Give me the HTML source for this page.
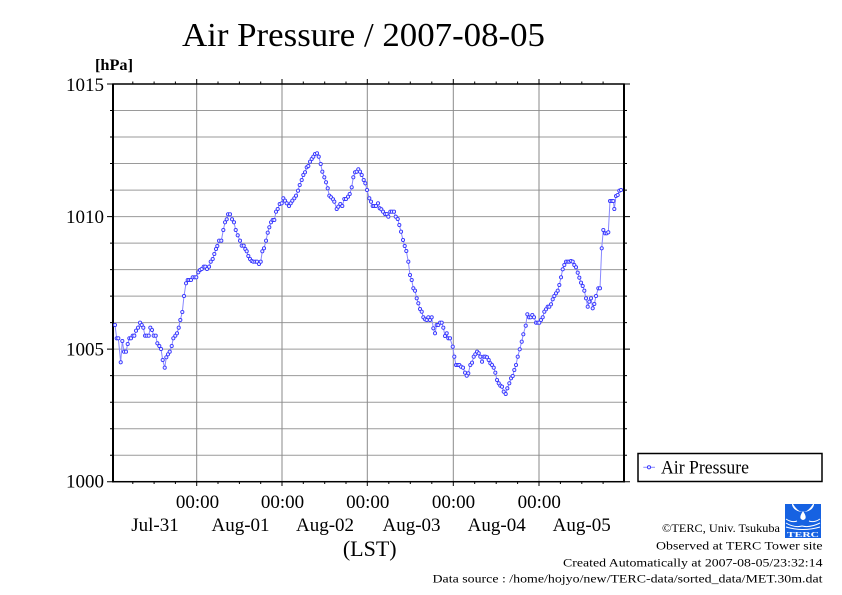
<!DOCTYPE html>
<html><head><meta charset="utf-8"><style>
html,body{margin:0;padding:0;background:#fff;}
svg{display:block;}
text{font-family:"Liberation Serif",serif;fill:#000;}
</style></head><body>
<svg width="842" height="595" viewBox="0 0 842 595" xmlns="http://www.w3.org/2000/svg">
<defs>
<marker id="m" markerWidth="6" markerHeight="6" refX="3" refY="3" markerUnits="userSpaceOnUse">
<circle cx="3" cy="3" r="1.6" fill="#eeeeff" stroke="#3535ff" stroke-width="0.9"/>
</marker>
</defs>
<rect width="842" height="595" fill="#fff"/>

<text x="182" y="46" font-size="34" textLength="363" lengthAdjust="spacingAndGlyphs">Air Pressure / 2007-08-05</text>
<text x="95" y="70" font-size="16" font-weight="bold" textLength="38" lengthAdjust="spacingAndGlyphs">[hPa]</text>

<g stroke="#9a9a9a" stroke-width="1" fill="none">
<path d="M113 110.5H624M113 137H624M113 163.5H624M113 190.1H624M113 216.6H624M113 243.1H624M113 269.6H624M113 296.1H624M113 322.6H624M113 349.1H624M113 375.6H624M113 402.2H624M113 428.7H624M113 455.2H624"/>
<path d="M196.7 84V481.7M282 84V481.7M367.3 84V481.7M453.3 84V481.7M539 84V481.7" stroke="#8a8a8a"/>
</g>

<g stroke="#000" stroke-width="1" fill="none">
<path d="M110 110.5H113M110 137H113M110 163.5H113M110 190.1H113M110 243.1H113M110 269.6H113M110 296.1H113M110 322.6H113M110 375.6H113M110 402.2H113M110 428.7H113M110 455.2H113"/>
<path d="M107 84H113M107 216.6H113M107 349.1H113M107 481.7H113"/>
<path d="M624 110.5H627M624 137H627M624 163.5H627M624 190.1H627M624 243.1H627M624 269.6H627M624 296.1H627M624 322.6H627M624 375.6H627M624 402.2H627M624 428.7H627M624 455.2H627"/>
<path d="M624 84H630M624 216.6H630M624 349.1H630M624 481.7H630"/>
<path d="M132.8 81.5V84M154.1 81.5V84M175.4 81.5V84M218 81.5V84M239.4 81.5V84M260.7 81.5V84M303.3 81.5V84M324.7 81.5V84M346 81.5V84M388.8 81.5V84M410.3 81.5V84M431.8 81.5V84M474.7 81.5V84M496.2 81.5V84M517.6 81.5V84M560.4 81.5V84M581.8 81.5V84M603.1 81.5V84"/>
<path d="M196.7 79V84M282 79V84M367.3 79V84M453.3 79V84M539 79V84"/>
<path d="M132.8 481.7V484M154.1 481.7V484M175.4 481.7V484M218 481.7V484M239.4 481.7V484M260.7 481.7V484M303.3 481.7V484M324.7 481.7V484M346 481.7V484M388.8 481.7V484M410.3 481.7V484M431.8 481.7V484M474.7 481.7V484M496.2 481.7V484M517.6 481.7V484M560.4 481.7V484M581.8 481.7V484M603.1 481.7V484"/>
<path d="M196.7 481.7V486M282 481.7V486M367.3 481.7V486M453.3 481.7V486M539 481.7V486"/>
</g>
<rect x="113" y="84" width="511" height="397.7" fill="none" stroke="#000" stroke-width="1.5"/>
<path d="M113 83.5V482.5M624 83.5V482.5" stroke="#000" stroke-width="2"/>

<g font-size="19" text-anchor="end">
<text x="104" y="91">1015</text>
<text x="104" y="223">1010</text>
<text x="104" y="355.5">1005</text>
<text x="104" y="487.5">1000</text>
</g>

<g font-size="19" text-anchor="middle">
<text x="197.5" y="508">00:00</text>
<text x="282.5" y="508">00:00</text>
<text x="367.8" y="508">00:00</text>
<text x="453.5" y="508">00:00</text>
<text x="539.3" y="508">00:00</text>
<text x="155" y="531">Jul-31</text>
<text x="240.5" y="531">Aug-01</text>
<text x="325" y="531">Aug-02</text>
<text x="411.5" y="531">Aug-03</text>
<text x="496.7" y="531">Aug-04</text>
<text x="581.7" y="531">Aug-05</text>
<text x="369.7" y="556" font-size="22">(LST)</text>
</g>

<polyline fill="none" stroke="#8888ff" stroke-width="1" marker-start="url(#m)" marker-mid="url(#m)" marker-end="url(#m)" points="
115,325 116.7,338.3 118.3,338.3 120.7,362.3 122.3,341 124,351.7 126,351.7 127.7,344 129.3,338.3 131,338.3 132.7,335.7 134.3,335.7 136,330.7 138,327.7 140,322.7 141.7,325 143.3,327.7 145,335.7 146.7,335.7 148.7,335.7 150.3,327.7 152,330 153.7,335.7 155.7,335.7 157.3,343.3 159.3,346 161,349 162.7,360 164.7,367.7 166.3,357.3 168,354.3 169.7,351.7 171.7,346 173.3,338.3 175.3,335.7 177,333.3 178.7,327.7 180.3,320 182.3,312 184,296 186,283.3 187.7,280 189.3,280 191,280 192.7,277.3 194.7,277.3 196.3,277.3 198.3,272.3 200,270 201.7,269 203.7,266.7 205.3,266.7 207,269 209,266.7 210.7,261.7 212.7,259 214.3,254 216,249 217.3,246 219,240.7 221.3,240.7 223.3,230 225,222.3 226.7,219.3 228,214.3 230,214.3 232,219.3 234,222.3 235.7,230 237.7,235.3 240,240.7 241.7,245.7 243.7,245.7 245.3,249 246.7,251.3 248.3,256 250,259 251.7,261 253.3,261.7 255.3,261.7 257,261.7 259,264 260.7,261.7 262.3,251.3 264,248.3
266,240.7 267.7,232.7 269.3,227.3 271,222.3 272.7,220 274.3,220 276,211.7 277.7,209 279.7,204 281.7,203.3 283.3,198.3 285,200.7 286.7,203.3 289,206 290.7,203.3 292.3,200.7 294.3,198.3 296,195.7 298,190.7 299.7,185 301.7,180 303.3,175 305,172.3 306.7,167.3 308.3,166 310,161.7 311.7,159 313.3,156.7 315,154 317,153.3 318.7,156.7 320.7,164 322.3,171.7 324.3,177.3 326,182.3 327.7,188.3 329.3,195.7 331,197.3 333,199.3 334.3,201.7 336.7,209 338.3,206.7 340.3,204 342.3,206 344.3,199 346,199 348,196.7 349.7,194 351.7,187.3 353.3,177.3 355,172.3 356.7,171.7 358.3,169.3 360,171.7 361.7,175 363.7,180 365.3,183.3 367,190 369.3,198.3 371,201.7 372.7,206 374.3,206 376,206 378,203.3 379.7,208.3 381.3,209.3 383,211.7 385,214 386.7,214 388.3,216.7 390.3,211.7 392,211.7 394,211.7 395.7,216.7 397.7,219 399.3,225 401,231.7 403,240 404.7,246 406.3,251 408.3,261.7 410,275
411.7,280 413.3,288.3 415,290.7 416.7,298.3 418.3,303.3 420,309 421.7,311.7 423.3,317.3 425,319.3 426.7,320 428.3,317.3 430,320 431.7,317.3 433.3,328.3 435,333.3 436.7,325 438.3,325 440,322.7 441.7,322.7 443.3,327.7 445,336 446.7,333.3 448.3,338.3 450,338.3 452.7,346.7 454.3,356.7 456,365 457.7,365 459.3,365 461,366.7 463,367.7 465,372.7 466.7,375.7 468.3,373.3 470.3,365 472,362.7 473.7,356.7 475.3,354.3 477,351.7 478.7,353.3 480.3,356.7 482,361.7 483.7,356.7 485.3,356.7 487,357.3 488.7,360 490.3,363.3 492,365 493.7,367.7 495.3,372.7 497,380 498.7,383.3 500.3,385.7 502,386.7 503.7,391.7 505.7,394 507.3,388.3 509.3,383.3 511,378.3 512.7,376 514.3,370 516,365 517.7,356.7 519.7,349.3 521.7,341.7 523.3,334.3 525.7,325.7 527.3,314.3 529,317.3 530.7,317.3 532.3,315 534,317.3 536,322.7 537.7,322.7 539.3,322.7 541,320 542.7,317.3 544.3,311.7 546,309.3 547.7,306.7 549.3,306.7 551,304.3 552.7,299.3
554.3,296 556,293.3 557.7,290.7 559.3,285 561,277.3 562.7,269.3 564.3,265 566,261.7 567.7,261.7 569.3,261.7 571,261 572.7,261.7 574.3,265 576,267.3 577.7,272.7 579.3,277.7 581,282.7 582.7,286 584.3,290.7 586,298.3 587.7,306.7 589.3,301.7 591,298.3 592.7,308.3 594.3,304 596,296 598.3,288.3 600,288.3 601.7,248.3 603.3,230 605,233.3 606.7,233.3 608.3,232.3 610,201 611.7,201 613.3,201 614.3,209 616,196 617.7,195 619.3,190.7 621,190"/>

<rect x="638" y="453.5" width="184" height="28" fill="#fff" stroke="#000" stroke-width="1.5"/>
<line x1="643.3" y1="467.3" x2="655" y2="467.3" stroke="#8888ff" stroke-width="1"/>
<circle cx="649" cy="467.3" r="1.6" fill="#eeeeff" stroke="#3535ff" stroke-width="0.9"/>
<text x="661" y="473.5" font-size="18.5" textLength="88" lengthAdjust="spacingAndGlyphs">Air Pressure</text>

<g font-size="11.5" text-anchor="end">
<text x="780" y="532" textLength="118" lengthAdjust="spacingAndGlyphs">©TERC, Univ. Tsukuba</text>
<text x="822.5" y="549.5" textLength="166.5" lengthAdjust="spacingAndGlyphs">Observed at TERC Tower site</text>
<text x="822.5" y="566.5" textLength="259.5" lengthAdjust="spacingAndGlyphs">Created Automatically at 2007-08-05/23:32:14</text>
<text x="822.5" y="582.5" textLength="390" lengthAdjust="spacingAndGlyphs">Data source : /home/hojyo/new/TERC-data/sorted_data/MET.30m.dat</text>
</g>

<g>
<rect x="785" y="504" width="36" height="34" fill="#1662e2"/>
<ellipse cx="803" cy="504" rx="11" ry="8" fill="#fff"/>
<path d="M793 504 Q803 520 813 504 Z" fill="#1662e2"/>
<path d="M803 511 Q799 517 801 519 Q803 521 805 519 Q807 517 803 511 Z" fill="#fff"/>
<path d="M786 519 Q792 523 797 521 M809 521 Q814 523 820 519 M786 523 Q794 528 802 526 Q810 528 820 523 M786 527 Q803 532 820 527" stroke="#fff" stroke-width="1" fill="none"/>
<text x="787" y="537" font-size="7" font-weight="bold" style="fill:#fff" textLength="32" lengthAdjust="spacingAndGlyphs">TERC</text>
</g>
</svg>
</body></html>
